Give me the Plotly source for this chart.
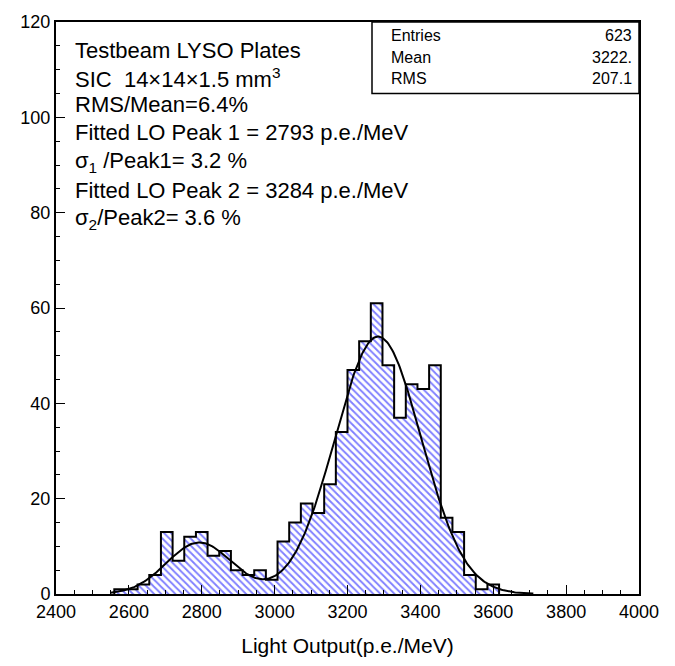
import numpy as np
import plotly.graph_objects as go

# ---- data ----
bin_width = 32
first_edge = 2560
counts = [1, 1, 2, 4, 13, 7, 12, 13, 8, 9, 5, 4, 5, 3, 11, 15, 19, 17, 23, 34,
          47, 53, 61, 48, 37, 44, 43, 48, 16, 13, 4, 1, 2]

# fit parameters (from the legend text) and read-off amplitudes
peak1_mean = 2793
peak1_rel_sigma = 0.032
peak1_amp = 10.8
peak2_mean = 3284
peak2_rel_sigma = 0.036
peak2_amp = 54.0
fit_range = [2550, 3710]

stats_labels = ["Entries", "Mean", "RMS"]
stats_values = ["623", "3222.", "207.1"]

text_lines = [
    "Testbeam LYSO Plates",
    "SIC  14×14×1.5 mm<sup>3</sup>",
    "RMS/Mean=6.4%",
    "Fitted LO Peak 1 = 2793 p.e./MeV",
    "σ<sub>1</sub> /Peak1= 3.2 %",
    "Fitted LO Peak 2 = 3284 p.e./MeV",
    "σ<sub>2</sub>/Peak2= 3.6 %",
]

# ---- build step outline from bins ----
edges = [first_edge + i * bin_width for i in range(len(counts) + 1)]
sx, sy = [edges[0]], [0]
for i, c in enumerate(counts):
    sx += [edges[i], edges[i + 1]]
    sy += [c, c]
sx.append(edges[-1]); sy.append(0)

# fit curve (double gaussian with the quoted parameters)
fx = np.linspace(fit_range[0], fit_range[1], 400)
s1 = peak1_mean * peak1_rel_sigma
s2 = peak2_mean * peak2_rel_sigma
fy = peak1_amp * np.exp(-0.5 * ((fx - peak1_mean) / s1) ** 2) + \
     peak2_amp * np.exp(-0.5 * ((fx - peak2_mean) / s2) ** 2)

fig = go.Figure()
fig.add_trace(go.Scatter(
    x=sx, y=sy, mode="lines", fill="toself", fillcolor="rgba(0,0,0,0)",
    fillpattern=dict(shape="\\", fgcolor="#0000ff", bgcolor="white", size=5, solidity=0.38),
    line=dict(color="black", width=2), hoverinfo="skip", showlegend=False))
fig.add_trace(go.Scatter(
    x=fx, y=fy, mode="lines", line=dict(color="black", width=2),
    hoverinfo="skip", showlegend=False))

FONT = "Liberation Sans, Arial, sans-serif"

fig.update_layout(
    width=675, height=666,
    margin=dict(l=56, r=36, t=15, b=68),
    paper_bgcolor="white", plot_bgcolor="white",
    font=dict(family=FONT, size=18, color="black"),
    showlegend=False,
    xaxis=dict(range=[2400, 4000], dtick=200, tick0=2400, ticks="inside", ticklen=9,
               tickwidth=1, tickcolor="black", showline=True, linecolor="black",
               linewidth=2, mirror=True, showgrid=False, zeroline=False,
               minor=dict(dtick=50, ticks="inside", ticklen=4, tickcolor="black", showgrid=False),
               title=dict(text="Light Output(p.e./MeV)", font=dict(size=21), standoff=18),
               tickfont=dict(size=18)),
    yaxis=dict(range=[0, 120], dtick=20, tick0=0, ticks="inside", ticklen=9,
               tickwidth=1, tickcolor="black", showline=True, linecolor="black",
               linewidth=2, mirror=True, showgrid=False, zeroline=False,
               minor=dict(dtick=5, ticks="inside", ticklen=4, tickcolor="black", showgrid=False),
               tickfont=dict(size=18)),
)

# pixel -> paper helpers for the plot area
PX0, PX1, PY0, PY1 = 56, 639, 15, 598
def px(x):
    return (x - PX0) / (PX1 - PX0)
def py(y):
    return (PY1 - y) / (PY1 - PY0)

# text block
line_y = [44, 72, 99, 128, 158, 187, 216]
for t, yy in zip(text_lines, line_y):
    fig.add_annotation(text=t, xref="paper", yref="paper", x=px(73), y=py(yy),
                       xanchor="left", yanchor="middle", showarrow=False,
                       font=dict(size=22, family=FONT, color="black"))

# stats box
bx0, bx1, by0, by1 = 372, 639, 15, 88
fig.add_shape(type="rect", xref="paper", yref="paper", x0=px(bx0), x1=px(bx1),
              y0=py(by1), y1=py(by0), line=dict(color="black", width=1.5),
              fillcolor="white", layer="above")
row_y = [29, 51, 73]
for lab, val, yy in zip(stats_labels, stats_values, row_y):
    fig.add_annotation(text=lab, xref="paper", yref="paper", x=px(389), y=py(yy),
                       xanchor="left", yanchor="middle", showarrow=False,
                       font=dict(size=16, family=FONT))
    fig.add_annotation(text=val, xref="paper", yref="paper", x=px(634), y=py(yy),
                       xanchor="right", yanchor="middle", showarrow=False,
                       font=dict(size=16, family=FONT))

fig.write_html("out.html")
